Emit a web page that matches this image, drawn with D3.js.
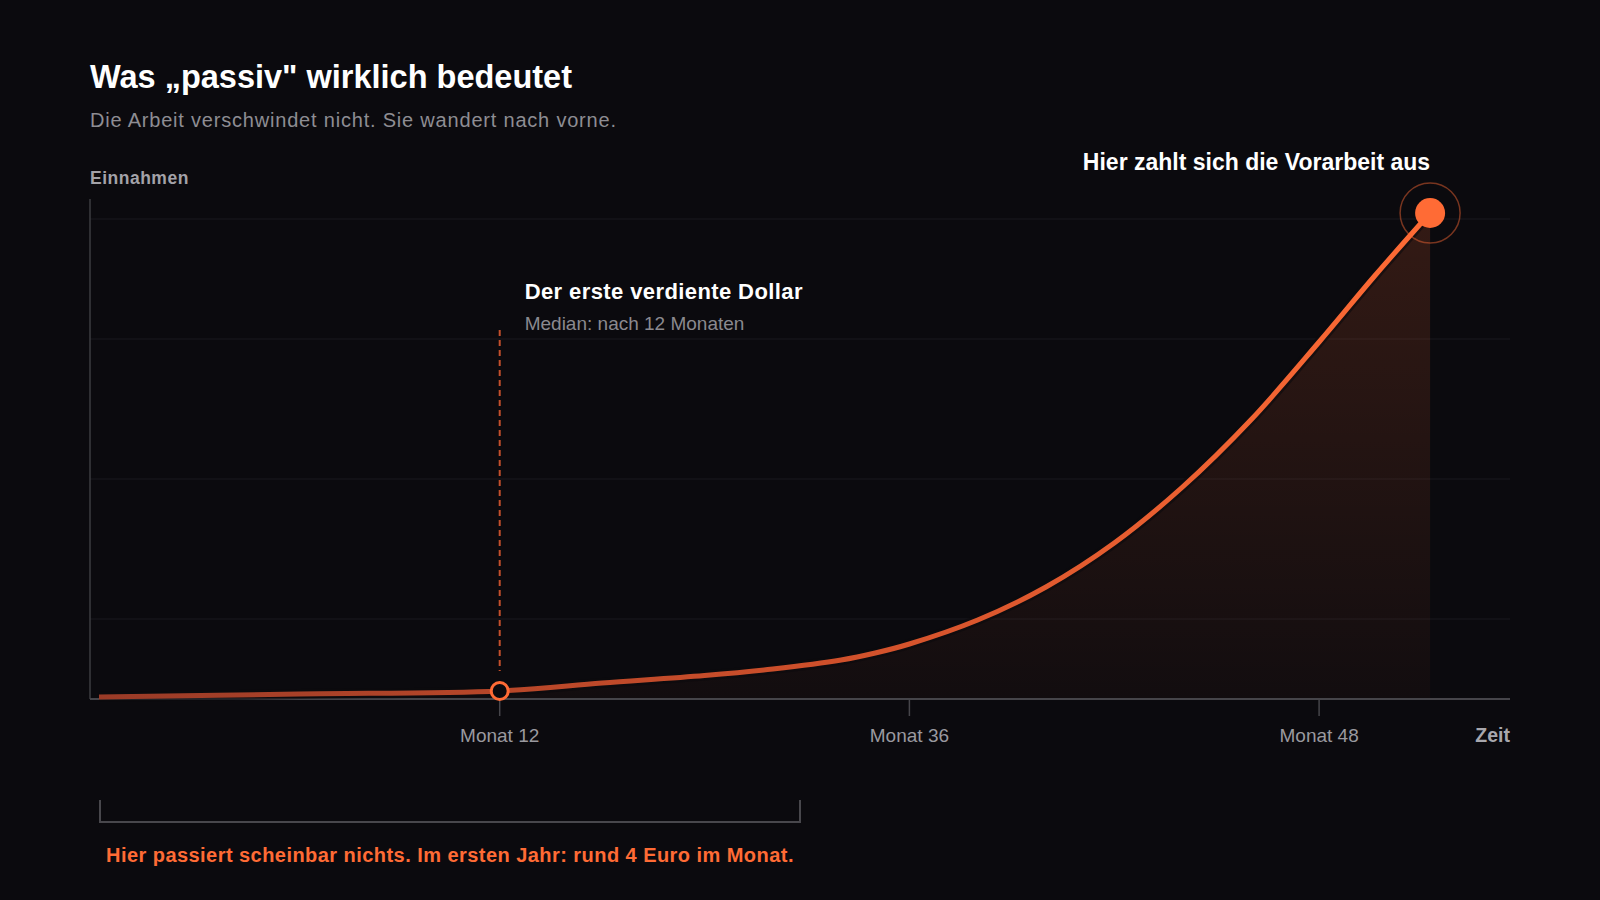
<!DOCTYPE html>
<html>
<head>
<meta charset="utf-8">
<script src="https://cdn.jsdelivr.net/npm/d3@7"></script>
<style>
  html, body { margin: 0; padding: 0; background: #0b0a0e; }
  svg { display: block; }
  text { font-family: "Liberation Sans", Arial, Helvetica, sans-serif; }
</style>
</head>
<body>
<script>
// data (income in arbitrary units, 0..100)
var months = [0, 6, 12, 18, 24, 28, 32, 34, 36, 38, 40, 42, 44, 46, 48, 50, 52];
var income = [0.4, 1.0, 1.6, 3.2, 4.7, 6.0, 7.8, 9.2, 11.0, 15.8, 22.4, 31.2, 42.4, 55.8, 71.4, 84.6, 97.2];
var tickMonths = [12, 36, 48];
var tickLabels = ["Monat 12", "Monat 36", "Monat 48"];
var gridValues = [16, 44, 72, 96];
var firstDollarMonth = 12;

var width = 1600, height = 900;
var left = 90, right = 1510, bottom = 699;
var step = 409.7;

var svg = d3.select("body").append("svg")
  .attr("width", width)
  .attr("height", height);

var defs = svg.append("defs");

// x is piecewise: tick labels are evenly spaced, not months
var x = d3.scaleLinear()
  .domain([0, 12, 36, 48, 52])
  .range([left + 9, left + step, left + 2 * step, left + 3 * step, left + 3 * step + 111]);
var y = d3.scaleLinear().domain([0, 100]).range([bottom, 199]);

var pts = months.map(function(m, i){ return {m: m, v: income[i]}; });
var last = pts[pts.length - 1];

// gradients
var lg = defs.append("linearGradient").attr("id", "lineGrad")
  .attr("gradientUnits", "userSpaceOnUse")
  .attr("x1", x(0)).attr("x2", x(last.m)).attr("y1", 0).attr("y2", 0);
lg.append("stop").attr("offset", "0%").attr("stop-color", "#9a3b27");
lg.append("stop").attr("offset", "55%").attr("stop-color", "#cf502b");
lg.append("stop").attr("offset", "100%").attr("stop-color", "#ff6b35");

var ag = defs.append("linearGradient").attr("id", "areaGrad")
  .attr("gradientUnits", "userSpaceOnUse")
  .attr("x1", 0).attr("x2", 0).attr("y1", y(100)).attr("y2", y(0));
ag.append("stop").attr("offset", "0%").attr("stop-color", "#ff6b35").attr("stop-opacity", 0.17);
ag.append("stop").attr("offset", "100%").attr("stop-color", "#ff6b35").attr("stop-opacity", 0.03);

// titles
svg.append("text").attr("x", left).attr("y", 88)
  .attr("font-size", 32.5).attr("font-weight", 700).attr("fill", "#ffffff")
  .text("Was \u201Epassiv\" wirklich bedeutet");
svg.append("text").attr("x", left).attr("y", 127)
  .attr("font-size", 20).attr("letter-spacing", 0.8).attr("fill", "#8e8d93")
  .text("Die Arbeit verschwindet nicht. Sie wandert nach vorne.");
svg.append("text").attr("x", left).attr("y", 184)
  .attr("font-size", 17.5).attr("letter-spacing", 0.5).attr("font-weight", 700).attr("fill", "#a3a2a8")
  .text("Einnahmen");

// grid
svg.append("g").selectAll(".grid")
  .data(gridValues)
  .enter().append("line")
  .attr("class", "grid")
  .attr("x1", left).attr("x2", right)
  .attr("y1", function(d){ return y(d); })
  .attr("y2", function(d){ return y(d); })
  .attr("stroke", "#1b191e").attr("stroke-width", 1.2);

var curve = d3.curveCatmullRom.alpha(0.5);

// area under curve
svg.append("path").datum(pts)
  .attr("d", d3.area()
    .x(function(d){ return x(d.m); })
    .y0(y(0))
    .y1(function(d){ return y(d.v); })
    .curve(curve))
  .attr("fill", "url(#areaGrad)");

// axes
svg.append("line").attr("x1", left).attr("x2", left).attr("y1", y(100)).attr("y2", y(0))
  .attr("stroke", "#3d3c41").attr("stroke-width", 1.5);
svg.append("line").attr("x1", left).attr("x2", right).attr("y1", y(0)).attr("y2", y(0))
  .attr("stroke", "#46454a").attr("stroke-width", 2);

var xt = svg.append("g").selectAll(".tick")
  .data(tickMonths)
  .enter().append("g").attr("class", "tick")
  .attr("transform", function(d){ return "translate(" + x(d) + "," + y(0) + ")"; });
xt.append("line").attr("y1", 0).attr("y2", 17)
  .attr("stroke", "#46454a").attr("stroke-width", 1.5);
xt.append("text").attr("y", 43).attr("text-anchor", "middle")
  .attr("font-size", 19).attr("fill", "#9a999f")
  .text(function(d, i){ return tickLabels[i]; });

svg.append("text").attr("x", right).attr("y", y(0) + 43).attr("text-anchor", "end")
  .attr("font-size", 19.5).attr("font-weight", 700).attr("fill", "#a8a7ad")
  .text("Zeit");

// dashed marker at first dollar
var fdVal = income[months.indexOf(firstDollarMonth)];
svg.append("line")
  .attr("x1", x(firstDollarMonth)).attr("x2", x(firstDollarMonth))
  .attr("y1", 330).attr("y2", y(fdVal) - 20)
  .attr("stroke", "#c44f2b").attr("stroke-width", 2)
  .attr("stroke-dasharray", "6,4");

// line with a dark halo
var line = d3.line()
  .x(function(d){ return x(d.m); })
  .y(function(d){ return y(d.v); })
  .curve(curve);
svg.append("path").datum(pts).attr("d", line)
  .attr("fill", "none").attr("stroke", "#0b0a0e").attr("stroke-opacity", 0.6)
  .attr("stroke-width", 10);
svg.append("path").datum(pts).attr("d", line)
  .attr("fill", "none").attr("stroke", "url(#lineGrad)")
  .attr("stroke-width", 5).attr("stroke-linejoin", "round");

// first dollar dot
svg.append("circle").attr("cx", x(firstDollarMonth)).attr("cy", y(fdVal)).attr("r", 8.5)
  .attr("fill", "#0b0a0e").attr("stroke", "#ff6b35").attr("stroke-width", 3);

svg.append("text").attr("x", x(firstDollarMonth) + 25).attr("y", 299)
  .attr("font-size", 22).attr("letter-spacing", 0.4).attr("font-weight", 700).attr("fill", "#ffffff")
  .text("Der erste verdiente Dollar");
svg.append("text").attr("x", x(firstDollarMonth) + 25).attr("y", 330)
  .attr("font-size", 19).attr("fill", "#8a898f")
  .text("Median: nach 12 Monaten");

// end point
svg.append("circle").attr("cx", x(last.m)).attr("cy", y(last.v)).attr("r", 30)
  .attr("fill", "none").attr("stroke", "#ff6b35").attr("stroke-opacity", 0.45).attr("stroke-width", 1.5);
svg.append("circle").attr("cx", x(last.m)).attr("cy", y(last.v)).attr("r", 15)
  .attr("fill", "#ff6b35");
svg.append("text").attr("x", x(last.m)).attr("y", 170).attr("text-anchor", "end")
  .attr("font-size", 23).attr("font-weight", 700).attr("fill", "#ffffff")
  .text("Hier zahlt sich die Vorarbeit aus");

// bracket under the first part
var bx0 = left + 10, bx1 = left + 710, by = 822;
svg.append("path")
  .attr("d", "M" + bx0 + "," + (by - 22) + "V" + by + "H" + bx1 + "V" + (by - 22))
  .attr("fill", "none").attr("stroke", "#48474c").attr("stroke-width", 2);
svg.append("text").attr("x", left + 16).attr("y", 862)
  .attr("font-size", 20).attr("letter-spacing", 0.45).attr("font-weight", 700).attr("fill", "#ff6b35")
  .text("Hier passiert scheinbar nichts. Im ersten Jahr: rund 4 Euro im Monat.");
</script>
</body>
</html>
